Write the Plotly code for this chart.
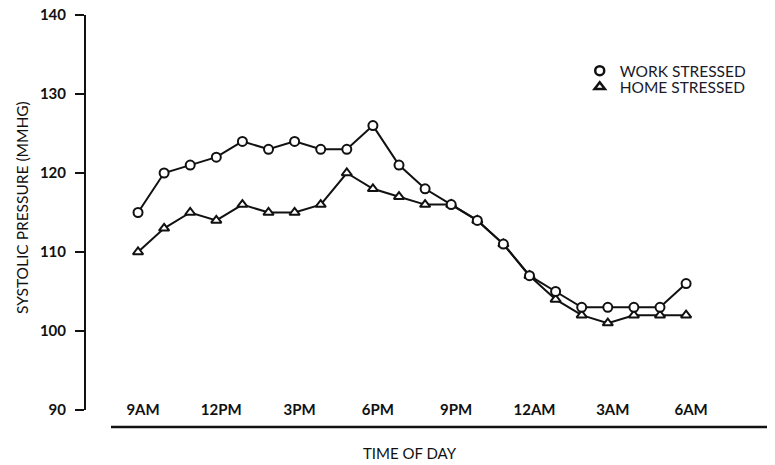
import plotly.graph_objects as go

hours = list(range(22))  # hourly readings from 9AM to 6AM
work_stressed = [115, 120, 121, 122, 124, 123, 124, 123, 123, 126, 121, 118,
                 116, 114, 111, 107, 105, 103, 103, 103, 103, 106]
home_stressed = [110, 113, 115, 114, 116, 115, 115, 116, 120, 118, 117, 116,
                 116, 114, 111, 107, 104, 102, 101, 102, 102, 102]
tick_hours = [0, 3, 6, 9, 12, 15, 18, 21]
tick_labels = ["9AM", "12PM", "3PM", "6PM", "9PM", "12AM", "3AM", "6AM"]
y_ticks = [90, 100, 110, 120, 130, 140]

FONT = "Lato"
INK = "#111111"

fig = go.Figure()

fig.add_trace(go.Scatter(
    x=hours, y=home_stressed, mode="lines+markers", showlegend=False,
    line=dict(color=INK, width=2),
    marker=dict(symbol="triangle-up", size=9, color="white",
                line=dict(color=INK, width=2)),
))
fig.add_trace(go.Scatter(
    x=hours, y=work_stressed, mode="lines+markers", showlegend=False,
    line=dict(color=INK, width=2),
    marker=dict(symbol="circle", size=9, color="white",
                line=dict(color=INK, width=2)),
))
# legend-only entries (markers without lines)
fig.add_trace(go.Scatter(
    x=[None], y=[None], mode="markers", name="WORK STRESSED", legend="legend",
    marker=dict(symbol="circle", size=9, color="white",
                line=dict(color=INK, width=2.5)),
))
fig.add_trace(go.Scatter(
    x=[None], y=[None], mode="markers", name="HOME STRESSED", legend="legend2",
    marker=dict(symbol="triangle-up", size=9, color="white",
                line=dict(color=INK, width=2.5)),
))

legend_style = dict(xanchor="left", yanchor="middle", bgcolor="rgba(0,0,0,0)",
                    font=dict(size=15.5, color="#1a1a2a"), itemwidth=30)

fig.update_layout(
    width=775, height=465,
    margin=dict(l=86, r=8, t=15, b=55),
    paper_bgcolor="white", plot_bgcolor="white",
    font=dict(family=FONT, color=INK),
    showlegend=True,
    legend=dict(x=0.725, y=0.858, **legend_style),
    legend2=dict(x=0.725, y=0.817, **legend_style),
    xaxis=dict(range=[-1.993, 24.10], tickvals=tick_hours, ticktext=tick_labels,
               showgrid=False, zeroline=False, showline=False, ticks="",
               automargin=False, ticklabeloverflow="allow",
               tickfont=dict(size=15, color=INK, weight="bold"),
               ticklabelshift=5, ticklabelstandoff=-11),
    yaxis=dict(range=[90, 140], tickvals=y_ticks, showgrid=False, zeroline=False,
               showline=True, linecolor=INK, linewidth=2, automargin=False,
               ticks="outside", ticklen=9, tickwidth=2, tickcolor=INK,
               ticklabelstandoff=6, ticklabeloverflow="allow",
               tickfont=dict(size=15, color=INK, weight="bold")),
    shapes=[dict(type="line", xref="paper", yref="paper",
                 x0=0.0367, x1=1.0, y0=-0.043, y1=-0.043,
                 line=dict(color=INK, width=2.5))],
    annotations=[
        dict(text="TIME OF DAY", xref="paper", yref="paper", x=0.476, y=-0.109,
             xanchor="center", yanchor="middle", showarrow=False,
             font=dict(size=15, color=INK)),
        dict(text="SYSTOLIC PRESSURE (MMHG)", xref="paper", yref="paper",
             x=-0.094, y=0.514, xanchor="center", yanchor="middle",
             textangle=-90, showarrow=False, font=dict(size=15.5, color=INK)),
    ],
)

# remove the default page margin so the figure fills the window exactly
fig.write_html("out.html",
               config={"displayModeBar": False},
               post_script="document.body.style.margin='0';document.body.style.overflow='hidden';")
